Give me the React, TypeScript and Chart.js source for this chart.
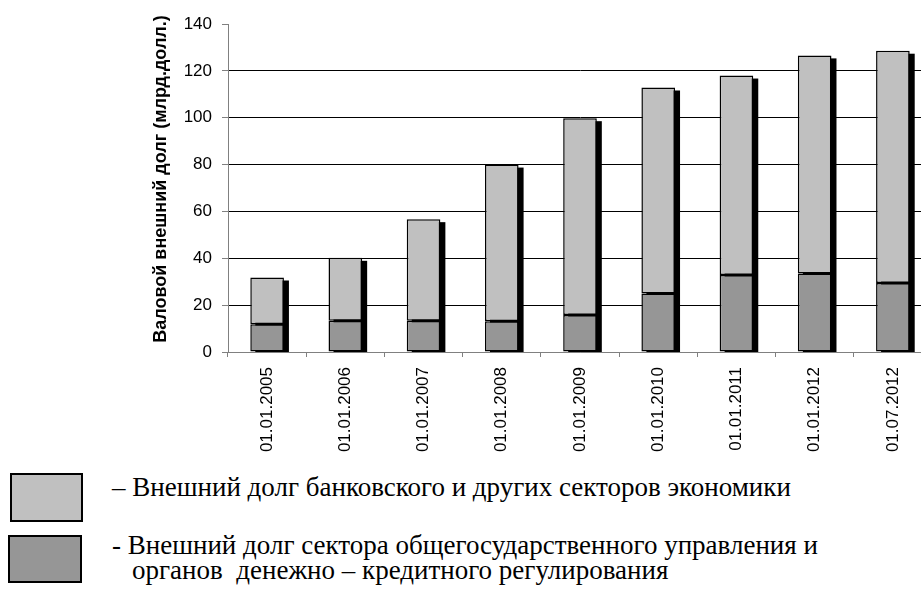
import React, { useEffect, useRef } from "react";
import { Chart, registerables } from "chart.js";

Chart.register(...registerables);

const categories = [
  "01.01.2005",
  "01.01.2006",
  "01.01.2007",
  "01.01.2008",
  "01.01.2009",
  "01.01.2010",
  "01.01.2011",
  "01.01.2012",
  "01.07.2012",
];

// Government sector & monetary authorities (bottom, dark)
const govDebt = [11.8, 13.3, 13.3, 13.1, 15.8, 25.0, 32.9, 33.5, 29.5];
// Banking and other sectors (top, light)
const otherDebt = [20.0, 26.9, 43.4, 66.9, 84.0, 87.9, 85.1, 93.1, 99.1];

const yMin = 0;
const yMax = 140;
const yStep = 20;

const yTitle = "Валовой внешний долг (млрд.долл.)";
const legendOther = "– Внешний долг банковского и других секторов экономики";
const legendGov1 = "- Внешний долг сектора общегосударственного управления и";
const legendGov2 = "органов  денежно – кредитного регулирования";

const LIGHT = "#C0C0C0";
const DARK = "#969696";

const shadowPlugin = {
  id: "barShadow",
  beforeDatasetsDraw(chart: any) {
    const ctx = chart.ctx;
    const yScale = chart.scales.y;
    const base = yScale.getPixelForValue(0);
    const metas = chart.data.datasets.map((_: any, i: number) => chart.getDatasetMeta(i));
    const n = chart.data.labels.length;
    ctx.save();
    ctx.fillStyle = "#000";
    for (let i = 0; i < n; i++) {
      let top = Infinity;
      let x = 0;
      let w = 0;
      metas.forEach((m: any) => {
        const el = m.data[i];
        if (!el) return;
        top = Math.min(top, el.y);
        x = el.x;
        w = el.width;
      });
      if (top === Infinity) continue;
      ctx.fillRect(x - w / 2 + 5, top + 3, w, base - top - 3);
    }
    ctx.restore();
  },
};

const titlePlugin = {
  id: "yTitleCustom",
  afterDraw(chart: any) {
    const ctx = chart.ctx;
    ctx.save();
    ctx.translate(161, 179);
    ctx.rotate(-Math.PI / 2);
    ctx.font = 'bold 18px "Liberation Sans"';
    ctx.fillStyle = "#000";
    ctx.textAlign = "center";
    ctx.textBaseline = "middle";
    ctx.fillText(yTitle, 0, 0);
    ctx.restore();
  },
};

function BarChart() {
  const ref = useRef<HTMLCanvasElement | null>(null);
  useEffect(() => {
    if (!ref.current) return;
    const chart = new Chart(ref.current, {
      type: "bar",
      data: {
        labels: categories,
        datasets: [
          {
            label: legendGov1 + " " + legendGov2,
            data: govDebt,
            backgroundColor: DARK,
            borderColor: "#000",
            borderWidth: 1.5,
            borderSkipped: false,
            categoryPercentage: 1,
            barPercentage: 0.43,
          },
          {
            label: legendOther,
            data: otherDebt,
            backgroundColor: LIGHT,
            borderColor: "#000",
            borderWidth: 1.5,
            borderSkipped: false,
            categoryPercentage: 1,
            barPercentage: 0.43,
          },
        ],
      },
      options: {
        animation: false,
        responsive: true,
        maintainAspectRatio: false,
        layout: { padding: { left: 147, right: 8, top: 24, bottom: 0 } },
        plugins: {
          legend: { display: false },
          tooltip: { enabled: false },
        },
        scales: {
          x: {
            stacked: true,
            afterFit(s: any) {
              s.height = 108;
            },
            grid: {
              display: true,
              drawOnChartArea: false,
              drawTicks: true,
              tickLength: 5,
              tickColor: "#808080",
              offset: true,
            },
            border: { display: true, color: "#808080", width: 1 },
            ticks: {
              autoSkip: false,
              maxRotation: 90,
              minRotation: 90,
              padding: 10,
              color: "#000",
              font: { family: '"Liberation Sans"', size: 17 },
            },
          },
          y: {
            stacked: true,
            min: yMin,
            max: yMax,
            afterFit(s: any) {
              s.width = 81;
            },
            grid: {
              color: (c: any) =>
                c.tick && c.tick.value === yMax
                  ? "rgba(0,0,0,0)"
                  : c.tick && c.tick.value === 0
                  ? "#808080"
                  : "#000",
              tickColor: "#808080",
              tickLength: 6,
              lineWidth: 1,
            },
            border: { display: true, color: "#808080", width: 1 },
            ticks: {
              stepSize: yStep,
              padding: 10,
              color: "#000",
              font: { family: '"Liberation Sans"', size: 17 },
            },
          },
        },
      },
      plugins: [shadowPlugin, titlePlugin],
    } as any);
    return () => chart.destroy();
  }, []);
  return <canvas ref={ref} />;
}

export default function App() {
  const textStyle: React.CSSProperties = {
    position: "absolute",
    fontFamily: '"Liberation Serif"',
    fontSize: 27,
    lineHeight: "25px",
    color: "#000",
    whiteSpace: "pre",
  };
  return (
    <div
      style={{
        position: "fixed",
        left: 0,
        top: 0,
        width: 921,
        height: 590,
        overflow: "hidden",
        background: "#fff",
      }}
    >
      <div style={{ position: "absolute", left: 0, top: 0, width: 940, height: 460 }}>
        <BarChart />
      </div>
      <div
        style={{
          position: "absolute",
          left: 10,
          top: 473,
          width: 73,
          height: 49,
          boxSizing: "border-box",
          border: "2px solid #000",
          background: LIGHT,
        }}
      />
      <div
        style={{
          position: "absolute",
          left: 8,
          top: 535,
          width: 74,
          height: 48,
          boxSizing: "border-box",
          border: "2px solid #000",
          background: DARK,
        }}
      />
      <div style={{ ...textStyle, left: 112, top: 475 }}>{legendOther}</div>
      <div style={{ ...textStyle, left: 112, top: 533 }}>{legendGov1}</div>
      <div style={{ ...textStyle, left: 132, top: 558 }}>{legendGov2}</div>
    </div>
  );
}
